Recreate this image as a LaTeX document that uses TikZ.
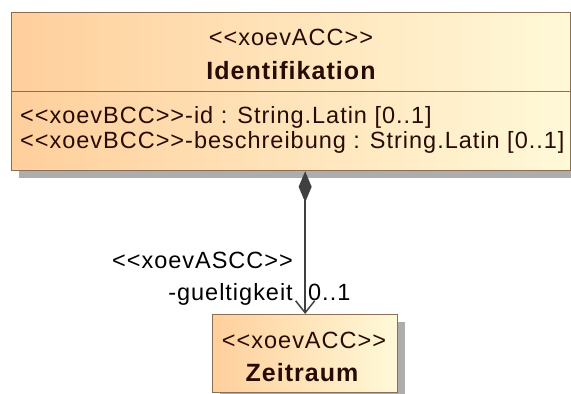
\documentclass[tikz,border=0pt]{standalone}
\usepackage{fontspec}
\newfontfamily\umlfont{Liberation Sans}[LetterSpace=4.2]
\usetikzlibrary{arrows.meta,shadows,positioning}
\definecolor{umlorange}{RGB}{255,207,156}
\definecolor{umlcream}{RGB}{255,249,216}
\definecolor{umlborder}{RGB}{140,110,82}
\definecolor{umltext}{RGB}{40,12,4}
\definecolor{umlline}{RGB}{64,64,64}
\tikzset{
	classbox/.style={rectangle, draw=umlborder, line width=1.3pt, inner sep=0pt,
		left color=umlorange, right color=umlcream,
		drop shadow={shadow xshift=7pt, shadow yshift=-7pt, fill=black!32, opacity=1}},
	classtext/.style={inner sep=0pt, text=umltext, anchor=base,
		font=\umlfont\fontsize{23.5}{26}\selectfont},
	classname/.style={classtext, font=\umlfont\fontsize{25}{28}\selectfont\bfseries},
	assoclabel/.style={inner sep=0pt, text=black,
		font=\umlfont\fontsize{23.5}{26}\selectfont},
	composition/.style={draw=umlline, line width=1.5pt,
		{Diamond[length=31pt,width=13pt,fill=umlline]}-{Straight Barb[length=12pt,width=19pt]}}
}

\begin{document}
\begin{tikzpicture}[x=1pt, y=-1pt]
		%%%%% START %%%%%
		\useasboundingbox (0, 0) rectangle (571, 394);
		
		% Identifikation
		\node[classbox, minimum width=559, minimum height=158, anchor=north west] (ident) at (11, 12) {};
		\draw[umlborder, line width=1.3pt] (11, 91.5) -- (570, 91.5);
		\node[classtext] (identstereo) at (291, 45) {<<xoevACC>>};
		\node[classname] (identname) at (291, 79.5) {Identifikation};
		\node[classtext, anchor=base west] (attrid) at (20, 123.5) {<<xoevBCC>>-id : String.Latin [0..1]};
		\node[classtext, anchor=base west] (attrbeschr) at (20, 148.5) {<<xoevBCC>>-beschreibung : String.Latin [0..1]};
		
		% Zeitraum
		\node[classbox, minimum width=185, minimum height=78, anchor=north west] (zeit) at (212, 314) {};
		\node[classtext] (zeitstereo) at (304, 348) {<<xoevACC>>};
		\node[classname] (zeitname) at (302, 381.5) {Zeitraum};
		
		% Komposition
		\draw[composition] (ident.south -| zeit.north) -- (zeit.north);
		\node[assoclabel, anchor=base east] (ascc) at (293, 268) {<<xoevASCC>>};
		\node[assoclabel, anchor=base east] (role) at (293, 300) {-gueltigkeit};
		\node[assoclabel, anchor=base west] (mult) at (308, 300) {0..1};
		
		%%%%% END %%%%%
	\end{tikzpicture}
\end{document}
